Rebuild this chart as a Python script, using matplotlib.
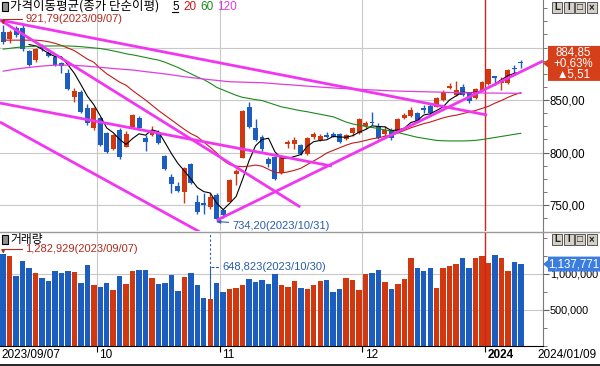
import matplotlib.pyplot as plt
import matplotlib.transforms as mtransforms
import numpy as np
import pandas as pd
from matplotlib.lines import Line2D
from matplotlib.patches import Polygon, Rectangle
from matplotlib.ticker import FixedLocator, FuncFormatter, MultipleLocator

plt.rcParams['font.family'] = ['Liberation Sans', 'DejaVu Sans']
KR = ['Noto Sans CJK KR', 'DejaVu Sans']

# trading days shown (KRX holidays removed)
holidays = ['2023-09-28', '2023-09-29', '2023-10-02', '2023-10-03', '2023-10-09',
            '2023-12-25', '2023-12-29', '2024-01-01']
dates = pd.bdate_range('2023-09-07', '2024-01-09', freq='C', holidays=holidays)

opens = [915, 907.8, 918.3, 918.3, 897, 888, 900.5, 894.5, 891, 885,
         875.4, 852.6, 858, 842, 823, 832.5, 819, 803, 821.4, 805,
         824.6, 832.6, 813.5, 816.7, 819, 796.7, 776.4, 767.9, 762.7, 789,
         753.2, 752, 747.8, 759.5, 745, 753.2, 779.5, 794.4, 843, 823,
         815, 793.5, 796, 780.2, 808.1, 808, 807, 798.6, 814.5, 812,
         816.7, 817.6, 817.6, 812.5, 818.3, 819, 825.2, 829.4, 825.2, 817.6,
         821.4, 820.8, 832.6, 834.8, 837.3, 842, 844.3, 843.6, 850, 861.7,
         854.8, 862.7, 857, 851.6, 859.5, 865.2, 872.9, 866, 866.5, 880.2,
         886.5]
highs = [921.79, 916.7, 920.5, 921, 898, 900, 903, 896.5, 892.5, 886.5,
         880, 861, 860, 846, 843.5, 834, 820, 817.5, 823, 820.5,
         836.5, 835, 816.7, 825, 821.4, 797.7, 780, 771.6, 786.5, 790,
         759.5, 761.7, 761.7, 761.7, 746.5, 774.5, 784, 840.5, 848.4, 831.5,
         816.3, 796, 797, 796, 811.9, 814.3, 808.5, 814.5, 820, 817.5,
         820, 820, 818.3, 817.5, 824.6, 832.5, 830, 838.9, 827.8, 825,
         823, 832.5, 838, 843.5, 838.5, 845, 846, 852.5, 859.5, 866,
         868.4, 865.2, 858, 861, 868, 879.5, 873, 872, 879.5, 883.5,
         888.5]
lows = [903, 904.6, 910, 897, 882, 886.5, 897, 890.5, 882, 876,
        859.5, 848, 838, 826.5, 821, 806, 800, 802, 794, 805,
        824, 821.5, 801.7, 815.8, 808.5, 783.4, 761, 762.1, 751.6, 770,
        741.4, 741.4, 746, 734.2, 738, 752.5, 769, 794.4, 823, 811,
        801.5, 786.5, 773.5, 779.5, 804.3, 803.8, 798, 797.5, 812.5, 811,
        813.5, 814.3, 809.4, 811.5, 815.7, 818, 822.5, 826.2, 812.5, 815.7,
        812, 820, 831.5, 833.5, 829, 837.3, 836, 843, 849.5, 860.2,
        853.8, 853.8, 847.5, 850.5, 858.5, 864.5, 864.7, 860, 865, 875.5,
        880.5]
closes = [905.5, 915, 912, 898.3, 883.3, 899, 899.5, 892, 883.3, 882.7,
          860.2, 858.6, 839, 828, 842, 807, 800.8, 816.7, 796, 817.6,
          835.7, 823, 810.3, 820.8, 809.4, 784.3, 770, 763.6, 785, 771.3,
          743.7, 750, 757.3, 736.3, 740.5, 773.8, 782.6, 839.5, 824.6, 811.9,
          803, 789, 774.5, 795.4, 810, 812, 798.6, 813.5, 817.6, 815.7,
          815, 815, 810.3, 816.7, 823, 831.6, 827.8, 827.8, 813.5, 821.4,
          813.5, 831.6, 835.7, 840.5, 830.3, 840.5, 837.3, 851.6, 858, 863.3,
          859.5, 854.8, 849.3, 860.2, 867, 879.2, 871.2, 869, 878.6, 879.34,
          884.85]
volumes = [1282929, 1250000, 972000, 1185000, 1088000, 1014000, 949000, 903000, 1042000, 1014000,
           1042000, 1028000, 875000, 1125000, 847000, 819000, 875000, 778000, 972000, 861000,
           1042000, 1056000, 1056000, 944000, 861000, 875000, 991000, 764000, 958000, 1014000,
           847000, 667000, 648823, 875000, 750000, 792000, 805000, 847000, 935000, 889000,
           917000, 861000, 1000000, 847000, 819000, 903000, 801000, 792000, 847000, 903000,
           917000, 755000, 792000, 940000, 917000, 778000, 995000, 1009000, 1056000, 894000,
           792000, 861000, 931000, 1227000, 1079000, 1042000, 1088000, 810000, 1079000, 1111000,
           1139000, 1218000, 1088000, 1227000, 1255000, 1157000, 1264000, 1227000, 1046000, 1171000,
           1137771]
# moving averages (longer ones need history before 09/07)
ma20 = [907, 907, 907, 907, 907, 907, 906.5, 905.5, 904, 902,
        899.5, 897, 893, 889, 886, 880, 875, 871, 867, 864,
        859, 854.5, 850, 845, 840, 835.5, 831, 826.5, 822, 818,
        815, 810, 805, 799.5, 792.5, 788.5, 787, 786.5, 787, 788,
        787, 784, 781, 780.5, 781.5, 783, 785, 788.5, 792, 795.5,
        799.5, 802, 804.5, 807, 809, 810, 811.5, 813, 814, 815.5,
        816.5, 818.5, 821, 823.5, 825.5, 827.5, 829, 831, 833, 834.5,
        835.5, 837, 838.5, 840, 842, 844, 847, 849.5, 852.5, 855,
        857]
ma60 = [898.5, 899.2, 900, 900.5, 901, 901.2, 901.4, 901.4, 901.5, 901.5,
        901.4, 901.2, 900.8, 900.2, 899.6, 899, 898, 896.8, 895.5, 894,
        893, 891.8, 890.5, 889.2, 888, 886, 883.5, 881, 878, 875,
        872, 869.5, 866, 862, 859.5, 857, 854.5, 852.5, 851.5, 850.3,
        849.5, 847.5, 845.5, 843.5, 842.3, 841, 839.8, 838.8, 837.6, 836.4,
        835.2, 834, 831.5, 829, 827.2, 826, 824.8, 823.8, 822.8, 821.5,
        820.3, 819, 817.5, 816, 814.5, 813.5, 812.5, 811.5, 811.2, 811,
        811, 811, 811.2, 811.6, 812.3, 813.3, 814.3, 815.3, 816.3, 817.3,
        818.3]
ma120 = [877.5, 878.5, 879.5, 880.3, 881, 881.7, 882.3, 882.8, 883.2, 883.3,
         883.2, 883, 882.6, 882.2, 881.7, 881.1, 880.6, 880, 879.5, 879,
         878.6, 877.8, 877, 876.3, 875.6, 874.8, 874, 873.1, 872.2, 871.4,
         870.7, 870, 869.3, 868.7, 868, 867.4, 867.2, 867, 866.8, 866.6,
         866.5, 866, 865.5, 865, 864.6, 864.2, 863.7, 863.2, 862.8, 862.3,
         861.9, 861.5, 861.1, 860.8, 860.5, 860.2, 859.9, 859.6, 859.3, 859,
         858.7, 858.5, 858.3, 858.2, 858, 857.9, 857.7, 857.6, 857.4, 857.2,
         857, 856.9, 856.8, 856.8, 856.7, 856.6, 856.6, 856.5, 856.5, 856.4,
         856.4]
# hand-drawn trend lines: (bar index, price) start and end
trend_lines = [((-0.5, 926.2), (45.9, 748.1)),
               ((-0.5, 926.2), (74.8, 835.7)),
               ((-0.5, 847.1), (50.8, 787.1)),
               ((-0.5, 829.0), (30.4, 724.3)),
               ((33.0, 735.5), (83.4, 887.1))]

W, H = 600, 366
RED, BLUE = '#d2380f', '#1c5ebf'
GRID = '#c8c8c8'


def fx(px):
    return px / W


def fy(py):
    return 1 - py / H


def price_fmt(v):
    return f"{v:.2f}".replace('.', ',')


fig = plt.figure(figsize=(W / 100, H / 100), dpi=100)
fig.patch.set_facecolor('white')
ax = fig.add_axes([0, fy(231), fx(543), 231 / H])
axv = fig.add_axes([0, fy(346), fx(543), 114 / H])

n = len(closes)
x = np.arange(n)
o, h, l, c = (np.array(a, dtype=float) for a in (opens, highs, lows, closes))
colors = np.where(c >= o, RED, BLUE)

for a in (ax, axv):
    a.set_xlim(-0.495, 83.43)
    for s in ('top', 'left', 'bottom'):
        a.spines[s].set_visible(False)
    a.spines['right'].set_color('#7a7a7a')
    a.yaxis.tick_right()
    a.tick_params(axis='y', which='both', direction='out', color='#606060',
                  labelsize=8.3, pad=1)
    a.tick_params(axis='y', which='major', length=4)
    a.tick_params(axis='y', which='minor', length=3)

# month boundaries
month_idx = [i for i in range(1, n) if dates[i].month != dates[i - 1].month]
month_pos = [i - 0.5 for i in month_idx]

# ---- price panel
ax.set_ylim(725.24, 945.24)
ax.set_xticks([])
# 900 sits under the last-price tag, so it only gets a tick mark
ax.yaxis.set_major_locator(FixedLocator([750, 800, 850]))
ax.yaxis.set_minor_locator(MultipleLocator(12.5))
ax.yaxis.set_major_formatter(FuncFormatter(lambda v, _: price_fmt(v)))
for v in (750, 800, 850, 900):
    ax.axhline(v, color=GRID, lw=0.8, zorder=0)
for p in month_pos[:-1]:
    ax.axvline(p, color=GRID, lw=0.8, zorder=0)
ax.axvline(month_pos[-1], color='#d42020', lw=1, zorder=1)

ax.vlines(x, l, h, colors=colors, lw=1, zorder=2)
ax.bar(x, np.maximum(np.abs(c - o), 1.0), bottom=np.minimum(o, c), width=0.76,
       color=colors, lw=0, zorder=2)

ma5 = pd.Series(c).rolling(5).mean()
ax.plot(x, ma5, color='black', lw=0.8, zorder=3)
ax.plot(x, ma20, color='#c41a1a', lw=0.8, zorder=3)
ax.plot(x, ma60, color='#1b8a1b', lw=0.8, zorder=3)
ax.plot(x, ma120, color='#e03ce0', lw=0.9, zorder=3)
for (x0, y0), (x1, y1) in trend_lines:
    ax.plot([x0, x1], [y0, y1], color='#f036f0', lw=2.0, zorder=4,
            solid_capstyle='butt')

i_hi, i_lo = int(np.argmax(h)), int(np.argmin(l))
ax.annotate(f"{price_fmt(h[i_hi])}({dates[i_hi]:%Y/%m/%d})", xy=(i_hi, h[i_hi]),
            xytext=(22, 6), textcoords='offset pixels', ha='left', va='center',
            color='#b02a1e', fontsize=8, zorder=6,
            arrowprops=dict(arrowstyle='-|>', mutation_scale=5, color='#b02a1e', lw=0.8,
                            shrinkA=0, shrinkB=0,
                            connectionstyle='angle,angleA=0,angleB=90,rad=0'))
ax.annotate(f"{price_fmt(l[i_lo])}({dates[i_lo]:%Y/%m/%d})", xy=(i_lo, l[i_lo]),
            xytext=(16, -4), textcoords='offset pixels', ha='left', va='center',
            color='#2a5caa', fontsize=8, zorder=6,
            arrowprops=dict(arrowstyle='-|>', mutation_scale=5, color='#2a5caa', lw=0.8,
                            shrinkA=1, shrinkB=0))

# ---- volume panel
vol = np.array(volumes, dtype=float)
axv.set_ylim(0, 1583333)
axv.yaxis.set_major_locator(FixedLocator([500000, 1000000]))
axv.yaxis.set_minor_locator(MultipleLocator(250000))
axv.yaxis.set_major_formatter(FuncFormatter(lambda v, _: f"{int(v):,}"))
axv.tick_params(axis='y', which='major', labelsize=7.8)
axv.spines['bottom'].set_visible(True)
axv.spines['bottom'].set_color('black')
for v in (500000, 1000000):
    axv.axhline(v, color=GRID, lw=0.8, zorder=0)
for p in month_pos[:-1]:
    axv.axvline(p, color=GRID, lw=0.8, zorder=0)
axv.axvline(month_pos[-1], color='#d42020', lw=1, zorder=3)
axv.bar(x, vol, width=0.84, color=colors, lw=0, zorder=2)

axv.set_xticks(month_pos)
axv.set_xticklabels([])
axv.tick_params(axis='x', direction='out', length=4, color='black')
strip = mtransforms.blended_transform_factory(axv.transData, axv.transAxes)
for i, p in zip(month_idx, month_pos):
    d = dates[i]
    lab = str(d.year) if d.month == 1 else str(d.month)
    axv.text(p + 0.35, -9 / 114, lab, transform=strip, ha='left', va='center',
             fontsize=8.5, fontweight='bold' if d.month == 1 else 'normal')
fig.text(fx(1), fy(355), f"{dates[0]:%Y/%m/%d}", ha='left', va='center', fontsize=8.5)
fig.text(fx(537), fy(355), f"{dates[-1]:%Y/%m/%d}", ha='left', va='center', fontsize=8.5)

v_hi, v_lo = int(np.argmax(vol)), int(np.argmin(vol))
axv.annotate(f"{int(vol[v_hi]):,}({dates[v_hi]:%Y/%m/%d})", xy=(v_hi, vol[v_hi]),
             xytext=(22, 5), textcoords='offset pixels', ha='left', va='center',
             color='#b02a1e', fontsize=8, zorder=6,
             arrowprops=dict(arrowstyle='-|>', mutation_scale=5, color='#b02a1e', lw=0.8,
                             shrinkA=0, shrinkB=0,
                             connectionstyle='angle,angleA=0,angleB=90,rad=0'))
axv.vlines(v_lo, vol[v_lo], 1583333, colors='#2a5caa', lw=0.8, linestyles=(0, (2, 2)),
           zorder=4)
axv.annotate(f"{int(vol[v_lo]):,}({dates[v_lo]:%Y/%m/%d})", xy=(v_lo, vol[v_lo]),
             xytext=(12, 32), textcoords='offset pixels', ha='left', va='center',
             color='#2a5caa', fontsize=8, zorder=6,
             arrowprops=dict(arrowstyle='-', color='#2a5caa', lw=0.8, linestyle=(0, (2, 2)),
                             shrinkA=1, shrinkB=0,
                             connectionstyle='angle,angleA=0,angleB=90,rad=0'))


# ---- value tags on the right axis
def tag(axis, value, half, face, lines):
    _, dy = axis.transData.transform((0, value))
    ty = H - dy
    pts = [(543, ty), (548, ty - 4), (548, ty - half), (600, ty - half),
           (600, ty + half), (548, ty + half), (548, ty + 4)]
    fig.add_artist(Polygon([(fx(a), fy(b)) for a, b in pts], closed=True,
                           transform=fig.transFigure, facecolor=face, edgecolor='none',
                           zorder=5))
    step = 11
    top = ty - step * (len(lines) - 1) / 2
    for k, s in enumerate(lines):
        fig.text(fx(573.5), fy(top + k * step), s, ha='center', va='center', color='white',
                 fontsize=8.3, zorder=6)


chg = c[-1] - c[-2]
tag(ax, c[-1], 17.5, '#d5401a',
    [price_fmt(c[-1]), f"{chg / c[-2] * 100:+.2f}%".replace('.', ','),
     f"▲{price_fmt(chg)}"])
tag(axv, vol[-1], 7.5, '#3a7ddf', [f"{int(vol[-1]):,}"])


# ---- window chrome: titles, buttons, separators
def buttons(top):
    for k, glyph in enumerate(['L', 'I', '□', '×']):
        left = 552 + k * 11.5
        fig.add_artist(Rectangle((fx(left), fy(top + 11)), 10 / W, 11 / H,
                                 transform=fig.transFigure, facecolor='#d4d0c8',
                                 edgecolor='#404040', lw=0.6, zorder=5))
        fig.text(fx(left + 5), fy(top + 5.5), glyph, ha='center', va='center',
                 fontsize=7, fontweight='bold', color='#202020', zorder=6)


def title_icon(top):
    fig.add_artist(Rectangle((fx(2), fy(top + 9)), 6 / W, 9 / H, transform=fig.transFigure,
                             facecolor='#909090', edgecolor='black', lw=0.8, zorder=5))


buttons(2)
buttons(234)
title_icon(2)
title_icon(235)
fig.text(fx(10), fy(6.5), '가격이동평균(종가 단순이평)', ha='left', va='center',
         fontsize=9, family=KR, zorder=6)
for xs, s, col in ((172, '5', 'black'), (183, '20', '#c41a1a'), (200, '60', '#1b8a1b'),
                   (217, '120', '#e03ce0')):
    fig.text(fx(xs), fy(6.5), s, ha='left', va='center', fontsize=8.5, color=col, zorder=6)
fig.add_artist(Line2D([fx(172), fx(178)], [fy(12), fy(12)], color='black', lw=0.8))
fig.text(fx(10), fy(239), '거래량', ha='left', va='center', fontsize=8.5, family=KR,
         zorder=6)

fig.add_artist(Line2D([0, 1], [fy(232), fy(232)], color='#9a9a9a', lw=1))
fig.add_artist(Line2D([0, 1], [fy(365), fy(365)], color='black', lw=1.2))

fig.savefig('out.png', dpi=100, facecolor='white')
